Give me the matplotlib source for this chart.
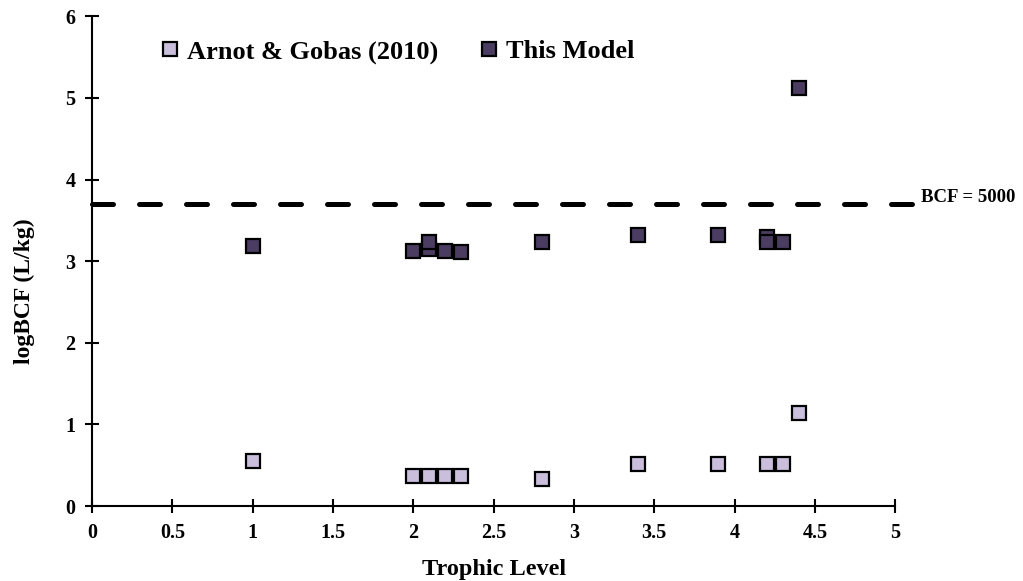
import numpy as np
import matplotlib.pyplot as plt

plt.rcParams['font.family'] = ['Liberation Serif', 'DejaVu Serif']
plt.rcParams['font.weight'] = 'bold'

# Trophic levels of the species
trophic_ag = [1.0, 2.0, 2.1, 2.2, 2.3, 2.8, 3.4, 3.9, 4.2, 4.3, 4.4]
logbcf_ag = [0.55, 0.37, 0.37, 0.37, 0.37, 0.33, 0.51, 0.51, 0.51, 0.51, 1.14]

trophic_model = [1.0, 2.0, 2.1, 2.1, 2.2, 2.3, 2.8, 3.4, 3.9, 4.2, 4.2, 4.3, 4.4]
logbcf_model = [3.19, 3.12, 3.15, 3.23, 3.13, 3.11, 3.24, 3.32, 3.32, 3.30, 3.23, 3.23, 5.12]

bcf_threshold = 5000

fig = plt.figure(figsize=(10.23, 5.81), dpi=100)
ax = fig.add_axes([0.09, 0.129, 0.785, 0.843])

ax.plot(trophic_ag, logbcf_ag, 's', ms=10, mfc='#c9bfdc', mec='black', mew=1.6,
        label='Arnot & Gobas (2010)', zorder=3)
ax.plot(trophic_model, logbcf_model, 's', ms=10, mfc='#4b3d62', mec='black', mew=1.6,
        label='This Model', zorder=3)

# regulatory threshold line
thr = np.log10(bcf_threshold)
ax.plot([0, 5.11], [thr, thr], color='black', lw=3.6, ls=(0, (4.2, 5.2)),
        dash_capstyle='round', clip_on=False, zorder=2)
ax.text(5.16, thr + 0.08, f'BCF = {bcf_threshold}', fontsize=13.5, fontweight='bold',
        va='center', ha='left')

ax.set_xlim(0, 5)
ax.set_ylim(0, 6)
ax.set_xticks(np.arange(0, 5.01, 0.5))
ax.set_xticklabels(['0', '0.5', '1', '1.5', '2', '2.5', '3', '3.5', '4', '4.5', '5'])
ax.set_yticks(range(7))
ax.tick_params(direction='inout', length=10, width=1.5, labelsize=14.5, pad=7)
for lab in ax.get_xticklabels() + ax.get_yticklabels():
    lab.set_fontweight('bold')
for s in ['top', 'right']:
    ax.spines[s].set_visible(False)
for s in ['left', 'bottom']:
    ax.spines[s].set_linewidth(1.5)

ax.set_xlabel('Trophic Level', fontsize=17.5, fontweight='bold', labelpad=12)
ax.set_ylabel('logBCF (L/kg)', fontsize=17, fontweight='bold')
ax.yaxis.set_label_coords(-0.071, 0.439)

ax.legend(loc='upper left', bbox_to_anchor=(0.048, 1.0), ncol=2, frameon=False,
          prop={'size': 19, 'weight': 'bold'}, handletextpad=0.05, columnspacing=1.3,
          markerscale=1.0, handlelength=1.2)

fig.savefig('out.png', dpi=100)
